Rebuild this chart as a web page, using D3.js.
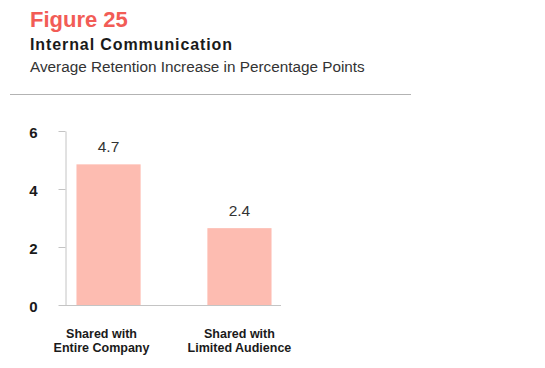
<!DOCTYPE html>
<html lang="en">
<head>
    <meta charset="UTF-8">
    <title>Figure 25 - Internal Communication</title>
    <style>
        body{
            margin: 0;
            overflow: hidden;
            background: #fff;
        }
        text{
            font-family: "Liberation Sans", Arial, Helvetica, sans-serif;
        }
    </style>
</head>
<body>
    <script src="https://d3js.org/d3.v7.min.js"></script>
    <script>
        // Chart data
        const categories = [["Shared with", "Entire Company"], ["Shared with", "Limited Audience"]];
        const barValues = [4.85, 2.65];      // bar heights as drawn in the figure
        const valueLabels = ["4.7", "2.4"];  // printed labels
        const yTicks = [0, 2, 4, 6];

        const width = 545, height = 368;

        const svg = d3.select('body').append('svg')
            .attr('width', width)
            .attr('height', height);

        // Header
        svg.append('text')
            .attr('x', 30).attr('y', 27)
            .style('font-size', '22px')
            .style('font-weight', 'bold')
            .style('fill', '#f25c56')
            .text('Figure 25');

        svg.append('text')
            .attr('x', 30).attr('y', 50)
            .style('font-size', '16px')
            .style('font-weight', 'bold')
            .style('letter-spacing', '0.9px')
            .style('fill', '#1a1a1a')
            .text('Internal Communication');

        svg.append('text')
            .attr('x', 30).attr('y', 71.5)
            .style('font-size', '15.3px')
            .style('fill', '#333')
            .text('Average Retention Increase in Percentage Points');

        svg.append('line')
            .attr('x1', 10).attr('x2', 411)
            .attr('y1', 94.5).attr('y2', 94.5)
            .attr('stroke', '#b3b3b3')
            .attr('stroke-width', 1);

        // Scales
        const x = d3.scaleBand()
            .domain(d3.range(categories.length))
            .range([66, 282])
            .paddingInner(0.51)
            .paddingOuter(0.08);

        const y = d3.scaleLinear()
            .domain([0, 6])
            .range([305, 131]);

        // Y axis
        const yAxis = svg.append('g')
            .attr('transform', 'translate(65.5,0)')
            .call(d3.axisLeft(y).tickValues(yTicks).tickFormat(d3.format('d'))
                .tickSize(7).tickPadding(21).tickSizeOuter(0));
        yAxis.select('.domain').attr('stroke', '#c4c4c4');
        yAxis.selectAll('.tick line').attr('stroke', '#c4c4c4');
        yAxis.selectAll('.tick text')
            .style('font-size', '15px')
            .style('font-weight', 'bold')
            .style('fill', '#1a1a1a')
            .attr('dy', '0.4em');

        // Bars
        svg.selectAll('.bar')
            .data(barValues)
            .enter().append('rect')
            .attr('class', 'bar')
            .attr('x', (d, i) => x(i))
            .attr('y', d => y(d))
            .attr('width', x.bandwidth())
            .attr('height', d => y(0) - y(d))
            .attr('fill', '#fdbcb1');

        // X axis baseline (drawn after bars)
        svg.append('line')
            .attr('x1', 65).attr('x2', 281)
            .attr('y1', 305.5).attr('y2', 305.5)
            .attr('stroke', '#c4c4c4');

        // Value labels
        svg.selectAll('.value')
            .data(barValues)
            .enter().append('text')
            .attr('class', 'value')
            .attr('x', (d, i) => x(i) + x.bandwidth() / 2)
            .attr('y', d => y(d) - 12)
            .attr('text-anchor', 'middle')
            .style('font-size', '15.5px')
            .style('fill', '#333')
            .text((d, i) => valueLabels[i]);

        // Category labels (the first one sits a little left of its bar in the original)
        const labelShift = [-7, 0];
        const cat = svg.selectAll('.cat')
            .data(categories)
            .enter().append('text')
            .attr('class', 'cat')
            .attr('text-anchor', 'middle')
            .style('font-size', '12.5px')
            .style('font-weight', 'bold')
            .style('fill', '#1a1a1a');

        cat.selectAll('tspan')
            .data((d, i) => d.map(line => ({ line, i })))
            .enter().append('tspan')
            .attr('x', d => x(d.i) + x.bandwidth() / 2 + labelShift[d.i])
            .attr('y', (d, j) => 338 + j * 14)
            .text(d => d.line);
    </script>
</body>
</html>
